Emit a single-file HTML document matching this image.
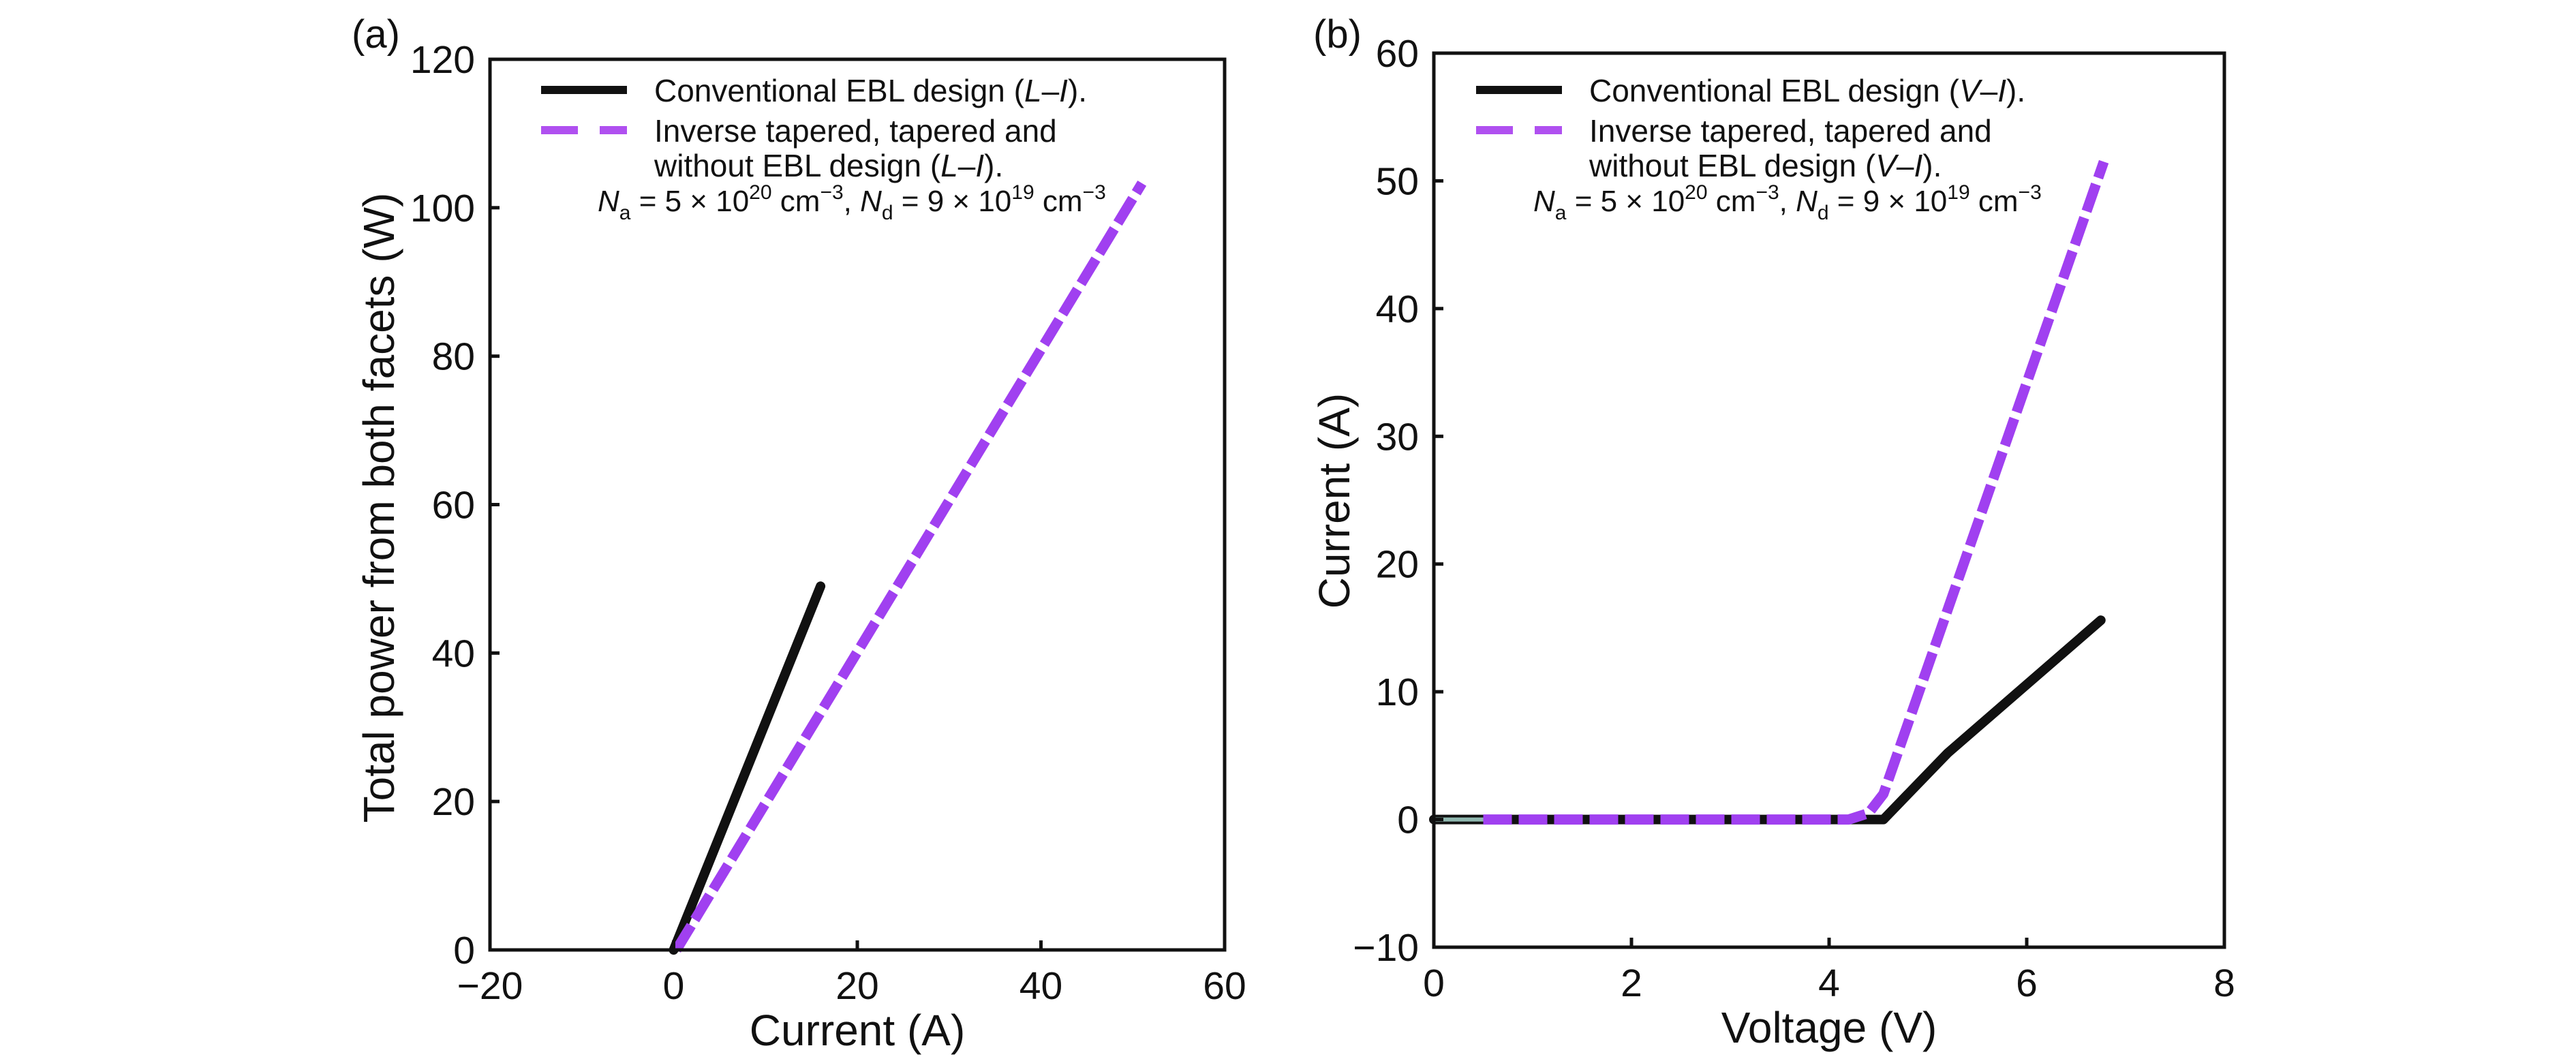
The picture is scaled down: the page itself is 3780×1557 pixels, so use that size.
<!DOCTYPE html>
<html><head><meta charset="utf-8"><style>
html,body{margin:0;padding:0;background:#fff;}
svg{display:block;font-family:"Liberation Sans",sans-serif;}
</style></head><body>
<svg id="fig" width="3780" height="1557" viewBox="0 0 3780 1557" xmlns="http://www.w3.org/2000/svg"></svg>
<script>
// Panel (a) data: L-I
const aConvI = [0, 16];
const aConvP = [0, 49];
const aInvI = [0.3, 51];
const aInvP = [0, 103.3];
const aXTicks = [-20, 0, 20, 40, 60];
const aYTicks = [0, 20, 40, 60, 80, 100, 120];
// Panel (b) data: V-I
const bConvV = [0, 4.55, 5.2, 6.75];
const bConvI = [0, 0, 5.2, 15.6];
const bInvV = [0.5, 4.2, 4.4, 4.55, 6.78];
const bInvI = [0, 0, 0.5, 2.0, 51.5];
const bXTicks = [0, 2, 4, 6, 8];
const bYTicks = [-10, 0, 10, 20, 30, 40, 50, 60];

const NS = "http://www.w3.org/2000/svg";
const svg = document.getElementById('fig');
function mk(tag, attrs, parent) {
  const e = document.createElementNS(NS, tag);
  for (const k in attrs) e.setAttribute(k, attrs[k]);
  (parent || svg).appendChild(e);
  return e;
}
function scale(d0, d1, r0, r1) { return v => r0 + (v - d0) / (d1 - d0) * (r1 - r0); }

function panel(cfg) {
  const g = mk('g', {});
  
  
  const X = scale(cfg.xd[0], cfg.xd[1], cfg.L, cfg.R);
  const Y = scale(cfg.yd[0], cfg.yd[1], cfg.B, cfg.T);
  const ptsConv = cfg.cx.map((v, i) => X(v) + ',' + Y(cfg.cy[i])).join(' ');
  const ptsInv = cfg.ix.map((v, i) => X(v) + ',' + Y(cfg.iy[i])).join(' ');
  const conv = mk('polyline', {points: ptsConv, fill: 'none', stroke: '#111', 'stroke-width': 14, 'stroke-linejoin': 'round', 'stroke-linecap': 'round'}, g);
  
  
  if (cfg.lead) {
    const ld = mk('line', {x1: X(0), y1: Y(0), x2: X(0.5), y2: Y(0), stroke: '#8fb8b0', 'stroke-width': 6}, g);
    
    
  }
  const inv = mk('polyline', {points: ptsInv, fill: 'none', stroke: '#a040f0', 'stroke-width': 15, 'stroke-dasharray': '42 10', 'stroke-linejoin': 'round'}, g);
  
  
  const box = mk('rect', {x: cfg.L, y: cfg.T, width: cfg.R - cfg.L, height: cfg.B - cfg.T, fill: 'none', stroke: '#111', 'stroke-width': 5}, g);
  
  
  cfg.xt.forEach(t => {
    const x = X(t);
    const tk = mk('line', {x1: x, y1: cfg.B, x2: x, y2: cfg.B - 14, stroke: '#111', 'stroke-width': 5}, g);
    
    
    const tx = mk('text', {x: x, y: cfg.B + 72, 'font-size': 57, 'text-anchor': 'middle', fill: '#111'}, g);
    
    
    tx.textContent = (t < 0 ? '\u2212' + Math.abs(t) : t);
  });
  cfg.yt.forEach(t => {
    const y = Y(t);
    const tk = mk('line', {x1: cfg.L, y1: y, x2: cfg.L + 14, y2: y, stroke: '#111', 'stroke-width': 5}, g);
    
    
    const tx = mk('text', {x: cfg.L - 22, y: y + 20, 'font-size': 57, 'text-anchor': 'end', fill: '#111'}, g);
    
    
    tx.textContent = (t < 0 ? '\u2212' + Math.abs(t) : t);
  });
  const xt = mk('text', {x: (cfg.L + cfg.R) / 2, y: cfg.B + 140, 'font-size': 64, 'text-anchor': 'middle', fill: '#111'}, g);
  
  
  xt.textContent = cfg.xtitle;
  const yt = mk('text', {x: 0, y: 0, 'font-size': 64, 'text-anchor': 'middle', fill: '#111', transform: `translate(${cfg.ytx},${cfg.yty}) rotate(-90)`}, g);
  
  
  yt.textContent = cfg.ytitle;
  const pl = mk('text', {x: cfg.plx, y: 70, 'font-size': 58, fill: '#111'}, g);
  
  
  pl.textContent = cfg.plabel;
  const lg = mk('g', {}, g);
  
  
  const s0 = cfg.lx, s1 = cfg.lx + 126, tx0 = cfg.lx + 166;
  const l1 = mk('line', {x1: s0, y1: 132, x2: s1, y2: 132, stroke: '#111', 'stroke-width': 12}, lg);
  
  
  const l2 = mk('line', {x1: s0, y1: 191, x2: s1, y2: 191, stroke: '#b050f0', 'stroke-width': 12, 'stroke-dasharray': '54 32'}, lg);
  
  
  const t1 = mk('text', {x: tx0, y: 149, 'font-size': 46, fill: '#111'}, lg);
  
  
  t1.innerHTML = `Conventional EBL design (<tspan font-style="italic">${cfg.q}</tspan>\u2013<tspan font-style="italic">I</tspan>).`;
  const t2 = mk('text', {x: tx0, y: 208, 'font-size': 46, fill: '#111'}, lg);
  
  
  t2.textContent = 'Inverse tapered, tapered and';
  const t3 = mk('text', {x: tx0, y: 259, 'font-size': 46, fill: '#111'}, lg);
  
  
  t3.innerHTML = `without EBL design (<tspan font-style="italic">${cfg.q}</tspan>\u2013<tspan font-style="italic">I</tspan>).`;
  const t4 = mk('text', {x: cfg.nx, y: 310, 'font-size': 44, fill: '#111'}, lg);
  
  
  t4.innerHTML = '<tspan font-style="italic">N</tspan><tspan font-size="30" dy="12">a</tspan><tspan dy="-12"> = 5 \u00d7 10</tspan><tspan font-size="30" dy="-18">20</tspan><tspan dy="18"> cm</tspan><tspan font-size="30" dy="-18">\u22123</tspan><tspan dy="18">, </tspan><tspan font-style="italic">N</tspan><tspan font-size="30" dy="12">d</tspan><tspan dy="-12"> = 9 \u00d7 10</tspan><tspan font-size="30" dy="-18">19</tspan><tspan dy="18"> cm</tspan><tspan font-size="30" dy="-18">\u22123</tspan>';
}

panel({name: 'panel-a-li', L: 719, R: 1797, T: 87, B: 1394, xd: [-20, 60], yd: [0, 120],
  cx: aConvI, cy: aConvP, ix: aInvI, iy: aInvP, xt: aXTicks, yt: aYTicks,
  xtitle: 'Current (A)', ytitle: 'Total power from both facets (W)', ytx: 578, yty: 745,
  plx: 516, plabel: '(a)', lx: 794, nx: 877, q: 'L', lead: false});
panel({name: 'panel-b-vi', L: 2104, R: 3264, T: 78, B: 1390, xd: [0, 8], yd: [-10, 60],
  cx: bConvV, cy: bConvI, ix: bInvV, iy: bInvI, xt: bXTicks, yt: bYTicks,
  xtitle: 'Voltage (V)', ytitle: 'Current (A)', ytx: 1980, yty: 735,
  plx: 1927, plabel: '(b)', lx: 2166, nx: 2250, q: 'V', lead: true});
</script>
</body></html>
